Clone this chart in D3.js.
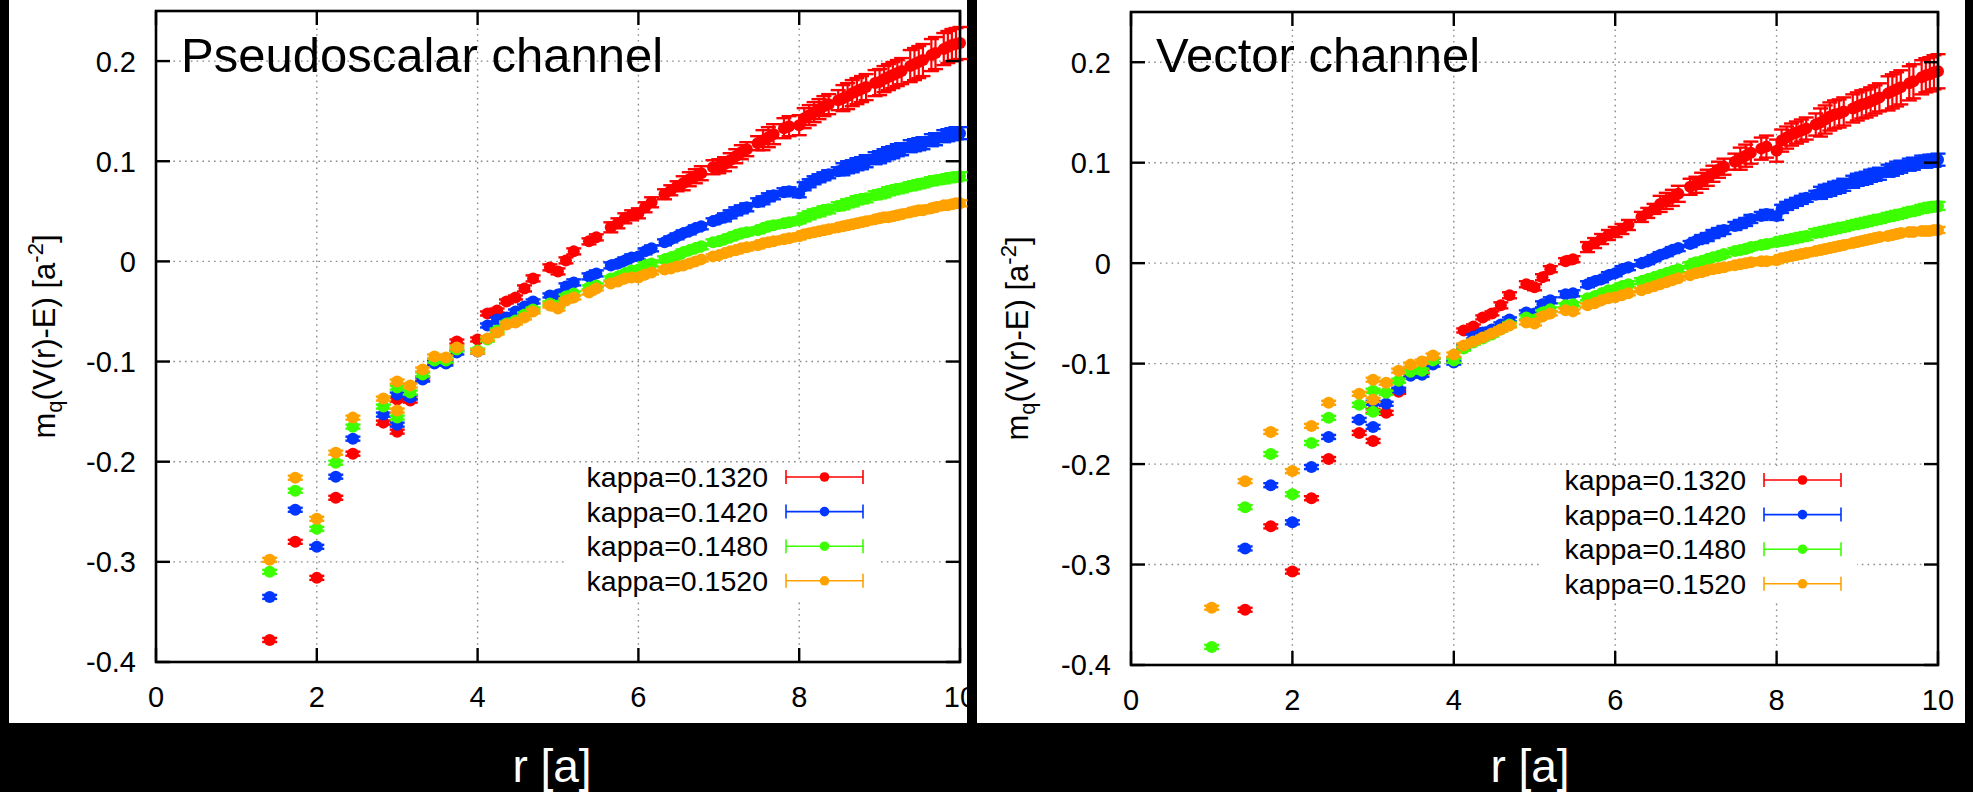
<!DOCTYPE html>
<html>
<head>
<meta charset="utf-8">
<script src="https://cdn.jsdelivr.net/npm/d3@7"></script>
<style>
  html, body { margin: 0; padding: 0; background: #000; }
  svg { display: block; }
</style>
</head>
<body>
<svg id="chart" width="1973" height="792"></svg>
<script>
// Lattice separations r (in units of a); r = 3 appears twice (two inequivalent lattice vectors)
const radii = [
  1.000, 1.414, 1.732, 2.000, 2.236, 2.449, 2.828, 3.000, 3.000, 3.162,
  3.317, 3.464, 3.606, 3.742, 4.000, 4.123, 4.243, 4.359, 4.472, 4.583,
  4.690, 4.899, 5.000, 5.099, 5.196, 5.385, 5.477, 5.657, 5.745, 5.831,
  5.916, 6.000, 6.083, 6.164, 6.325, 6.403, 6.481, 6.557, 6.633, 6.708,
  6.782, 6.928, 7.000, 7.071, 7.141, 7.211, 7.280, 7.348, 7.483, 7.550,
  7.616, 7.681, 7.810, 7.874, 8.000, 8.062, 8.124, 8.185, 8.246, 8.307,
  8.367, 8.485, 8.544, 8.602, 8.660, 8.718, 8.775, 8.832, 8.944, 9.000,
  9.055, 9.110, 9.165, 9.220, 9.274, 9.381, 9.434, 9.487, 9.539, 9.644,
  9.695, 9.798, 9.849, 9.899, 9.950, 10.000
];

const kappaLabels = ["kappa=0.1320", "kappa=0.1420", "kappa=0.1480", "kappa=0.1520"];
const xTicks = [0, 2, 4, 6, 8, 10];
const yTicks = [-0.4, -0.3, -0.2, -0.1, 0, 0.1, 0.2];
const panelTitles = ["Pseudoscalar channel", "Vector channel"];

// Pseudoscalar channel: m_q (V(r) - E)
const ps_k1320 = [
  null, -0.378, -0.280, -0.316, -0.236, -0.192, -0.161, -0.138, -0.170, -0.139,
  -0.117, -0.101, -0.100, -0.080, -0.078, -0.052, -0.049, -0.040, -0.036, -0.027,
  -0.017, -0.006, -0.010, 0.001, 0.010, 0.020, 0.024, 0.034, 0.038, 0.043,
  0.046, 0.048, 0.054, 0.059, 0.067, 0.071, 0.075, 0.078, 0.082, 0.085,
  0.088, 0.094, 0.095, 0.097, 0.101, 0.105, 0.109, 0.112, 0.118, 0.121,
  0.124, 0.127, 0.133, 0.135, 0.136, 0.143, 0.146, 0.149, 0.152, 0.155,
  0.157, 0.161, 0.163, 0.165, 0.168, 0.170, 0.172, 0.174, 0.178, 0.179,
  0.182, 0.184, 0.186, 0.188, 0.190, 0.195, 0.197, 0.199, 0.201, 0.206,
  0.208, 0.212, 0.214, 0.216, 0.217, 0.218
];
const ps_k1420 = [
  null, -0.335, -0.248, -0.285, -0.215, -0.177, -0.153, -0.133, -0.163, -0.136,
  -0.118, -0.102, -0.102, -0.091, -0.090, -0.064, -0.058, -0.056, -0.050, -0.045,
  -0.040, -0.034, -0.033, -0.025, -0.021, -0.015, -0.012, -0.004, -0.002, 0.001,
  0.004, 0.005, 0.010, 0.013, 0.019, 0.022, 0.025, 0.028, 0.030, 0.033,
  0.035, 0.040, 0.042, 0.044, 0.047, 0.050, 0.052, 0.054, 0.059, 0.061,
  0.064, 0.066, 0.069, 0.070, 0.068, 0.075, 0.078, 0.081, 0.083, 0.085,
  0.087, 0.090, 0.092, 0.094, 0.095, 0.097, 0.098, 0.100, 0.103, 0.104,
  0.106, 0.108, 0.109, 0.111, 0.112, 0.115, 0.116, 0.117, 0.118, 0.121,
  0.122, 0.125, 0.126, 0.127, 0.128, 0.128
];
const ps_k1480 = [
  null, -0.310, -0.229, -0.267, -0.201, -0.165, -0.145, -0.126, -0.156, -0.131,
  -0.113, -0.099, -0.099, -0.088, -0.089, -0.078, -0.069, -0.062, -0.059, -0.053,
  -0.048, -0.042, -0.044, -0.035, -0.032, -0.026, -0.024, -0.017, -0.015, -0.012,
  -0.009, -0.008, -0.004, -0.002, 0.002, 0.004, 0.006, 0.009, 0.011, 0.013,
  0.015, 0.019, 0.020, 0.022, 0.024, 0.026, 0.028, 0.029, 0.031, 0.033,
  0.035, 0.036, 0.038, 0.039, 0.041, 0.044, 0.046, 0.048, 0.049, 0.051,
  0.052, 0.055, 0.056, 0.058, 0.059, 0.061, 0.062, 0.063, 0.066, 0.067,
  0.068, 0.070, 0.071, 0.072, 0.073, 0.075, 0.076, 0.077, 0.078, 0.080,
  0.081, 0.082, 0.083, 0.084, 0.084, 0.085
];
const ps_k1520 = [
  null, -0.298, -0.216, -0.257, -0.191, -0.156, -0.137, -0.120, -0.149, -0.124,
  -0.108, -0.095, -0.096, -0.086, -0.090, -0.077, -0.071, -0.063, -0.061, -0.056,
  -0.050, -0.044, -0.047, -0.039, -0.036, -0.031, -0.027, -0.022, -0.020, -0.017,
  -0.016, -0.016, -0.013, -0.011, -0.008, -0.007, -0.005, -0.004, -0.002, 0.000,
  0.002, 0.005, 0.006, 0.008, 0.010, 0.011, 0.013, 0.014, 0.016, 0.018,
  0.019, 0.020, 0.022, 0.023, 0.025, 0.027, 0.028, 0.029, 0.030, 0.031,
  0.032, 0.034, 0.035, 0.036, 0.037, 0.038, 0.039, 0.040, 0.042, 0.043,
  0.044, 0.044, 0.045, 0.046, 0.047, 0.049, 0.050, 0.051, 0.051, 0.053,
  0.054, 0.056, 0.056, 0.057, 0.058, 0.058
];

// Vector channel: m_q (V(r) - E)
const vec_k1320 = [
  null, -0.345, -0.262, -0.307, -0.234, -0.195, -0.169, -0.147, -0.177, -0.149,
  -0.128, -0.111, -0.108, -0.097, -0.096, -0.067, -0.063, -0.054, -0.050, -0.042,
  -0.032, -0.021, -0.024, -0.014, -0.006, 0.002, 0.004, 0.016, 0.020, 0.024,
  0.028, 0.031, 0.034, 0.038, 0.046, 0.050, 0.054, 0.059, 0.062, 0.065,
  0.069, 0.076, 0.078, 0.082, 0.085, 0.089, 0.093, 0.096, 0.101, 0.104,
  0.107, 0.110, 0.114, 0.116, 0.112, 0.122, 0.125, 0.128, 0.130, 0.132,
  0.134, 0.138, 0.140, 0.143, 0.146, 0.148, 0.149, 0.151, 0.154, 0.156,
  0.158, 0.159, 0.161, 0.163, 0.165, 0.169, 0.171, 0.173, 0.175, 0.179,
  0.181, 0.185, 0.187, 0.188, 0.190, 0.191
];
const vec_k1420 = [
  null, -0.284, -0.221, -0.258, -0.203, -0.173, -0.156, -0.139, -0.163, -0.140,
  -0.126, -0.112, -0.111, -0.101, -0.099, -0.083, -0.073, -0.069, -0.066, -0.061,
  -0.056, -0.049, -0.050, -0.041, -0.037, -0.031, -0.030, -0.021, -0.018, -0.016,
  -0.012, -0.010, -0.006, -0.004, 0.000, 0.002, 0.005, 0.008, 0.010, 0.013,
  0.015, 0.019, 0.022, 0.024, 0.026, 0.029, 0.031, 0.033, 0.037, 0.039,
  0.041, 0.044, 0.047, 0.049, 0.047, 0.054, 0.057, 0.059, 0.061, 0.063,
  0.065, 0.068, 0.070, 0.072, 0.073, 0.075, 0.076, 0.078, 0.081, 0.083,
  0.084, 0.085, 0.087, 0.088, 0.089, 0.092, 0.093, 0.095, 0.096, 0.098,
  0.099, 0.101, 0.101, 0.102, 0.102, 0.103
];
const vec_k1480 = [
  -0.382, -0.243, -0.190, -0.230, -0.179, -0.154, -0.141, -0.127, -0.148, -0.129,
  -0.117, -0.108, -0.107, -0.097, -0.097, -0.085, -0.079, -0.075, -0.071, -0.066,
  -0.061, -0.054, -0.056, -0.049, -0.046, -0.042, -0.041, -0.035, -0.033, -0.030,
  -0.027, -0.026, -0.023, -0.021, -0.018, -0.016, -0.014, -0.012, -0.010, -0.008,
  -0.006, -0.002, 0.001, 0.002, 0.004, 0.006, 0.007, 0.009, 0.012, 0.013,
  0.014, 0.016, 0.018, 0.019, 0.021, 0.022, 0.023, 0.024, 0.025, 0.026,
  0.027, 0.030, 0.031, 0.032, 0.033, 0.034, 0.035, 0.036, 0.038, 0.039,
  0.040, 0.041, 0.042, 0.043, 0.044, 0.046, 0.047, 0.048, 0.049, 0.051,
  0.052, 0.054, 0.055, 0.056, 0.056, 0.057
];
const vec_k1520 = [
  -0.343, -0.217, -0.168, -0.207, -0.162, -0.139, -0.130, -0.116, -0.136, -0.119,
  -0.107, -0.101, -0.098, -0.092, -0.091, -0.082, -0.078, -0.074, -0.070, -0.066,
  -0.062, -0.059, -0.060, -0.053, -0.050, -0.047, -0.048, -0.042, -0.040, -0.037,
  -0.035, -0.034, -0.032, -0.030, -0.027, -0.025, -0.023, -0.021, -0.019, -0.017,
  -0.015, -0.012, -0.010, -0.009, -0.007, -0.006, -0.005, -0.004, -0.002, -0.001,
  0.000, 0.001, 0.002, 0.002, 0.003, 0.005, 0.006, 0.007, 0.008, 0.009,
  0.010, 0.012, 0.013, 0.014, 0.015, 0.016, 0.017, 0.018, 0.020, 0.021,
  0.022, 0.023, 0.024, 0.025, 0.026, 0.027, 0.028, 0.029, 0.030, 0.031,
  0.031, 0.032, 0.032, 0.032, 0.033, 0.033
];

// Statistical errors, given per range of r as [upper r, half-width]
const psErr_k1320 = [[4.5, 0.002], [5.5, 0.003], [6.5, 0.005], [7.5, 0.007], [8.5, 0.010], [9.3, 0.013], [10.1, 0.016]];
const psErr_k1420 = [[5.0, 0.002], [7.0, 0.003], [8.5, 0.004], [10.1, 0.006]];
const psErr_k1480 = [[6.0, 0.002], [8.0, 0.003], [10.1, 0.004]];
const psErr_k1520 = [[7.0, 0.002], [10.1, 0.003]];
const vecErr_k1320 = [[4.5, 0.002], [5.5, 0.003], [6.5, 0.005], [7.5, 0.008], [8.5, 0.011], [9.3, 0.014], [10.1, 0.017]];
const vecErr_k1420 = [[5.0, 0.002], [7.0, 0.003], [8.5, 0.004], [10.1, 0.006]];
const vecErr_k1480 = [[6.0, 0.002], [8.0, 0.003], [10.1, 0.004]];
const vecErr_k1520 = [[7.0, 0.002], [10.1, 0.003]];

const seriesColors = ["#ff0000", "#0036ff", "#3cff00", "#ffa200"];

const svg = d3.select("#chart");
const FONT = "'Liberation Sans', Arial, Helvetica, sans-serif";

const panels = [
  {
    title: panelTitles[0],
    series: [ps_k1320, ps_k1420, ps_k1480, ps_k1520],
    errs: [psErr_k1320, psErr_k1420, psErr_k1480, psErr_k1520],
    bg: [9, 967], plot: { left: 156, right: 960, top: 11, bottom: 662 },
    yLabelX: 55, rLabelX: 552,
    legendBox: [565, 878]
  },
  {
    title: panelTitles[1],
    series: [vec_k1320, vec_k1420, vec_k1480, vec_k1520],
    errs: [vecErr_k1320, vecErr_k1420, vecErr_k1480, vecErr_k1520],
    bg: [977, 1965], plot: { left: 1131, right: 1938, top: 12, bottom: 665 },
    yLabelX: 1028, rLabelX: 1530,
    legendBox: [1540, 1857]
  }
];

function errAt(bands, r) {
  for (const [rMax, e] of bands) if (r <= rMax) return e;
  return bands[bands.length - 1][1];
}

panels.forEach(p => {
  const P = p.plot;
  const x = d3.scaleLinear().domain([0, 10]).range([P.left, P.right]);
  const y = d3.scaleLinear().domain([-0.4, 0.25]).range([P.bottom, P.top]);
  const g = svg.append("g");

  // white page of the panel
  g.append("rect").attr("x", p.bg[0]).attr("y", 0)
    .attr("width", p.bg[1] - p.bg[0]).attr("height", 723).attr("fill", "#fff");

  // dotted grid
  const grid = g.append("g").attr("stroke", "#8a8a8a").attr("stroke-width", 1.4)
    .attr("stroke-dasharray", "1.6,4.2");
  grid.selectAll("line.gx").data(xTicks.filter(t => t > 0 && t < 10)).enter().append("line")
    .attr("x1", d => x(d)).attr("x2", d => x(d)).attr("y1", P.top).attr("y2", P.bottom);
  grid.selectAll("line.gy").data(yTicks.filter(t => t > -0.4)).enter().append("line")
    .attr("x1", P.left).attr("x2", P.right).attr("y1", d => y(d)).attr("y2", d => y(d));

  // legend, on an opaque box over the grid
  const legTop = P.bottom - 199;
  g.append("rect").attr("x", p.legendBox[0]).attr("y", legTop)
    .attr("width", p.legendBox[1] - p.legendBox[0]).attr("height", 136).attr("fill", "#fff");
  const textRight = P.right - 192;
  const sx1 = P.right - 174, sx2 = P.right - 97;
  kappaLabels.forEach((lab, i) => {
    const cy = P.bottom - 185 + i * 34.6;
    g.append("text").attr("x", textRight).attr("y", cy).attr("dy", "0.36em")
      .attr("text-anchor", "end").attr("font-family", FONT).attr("font-size", 28.5)
      .attr("fill", "#000").text(lab);
    const s = g.append("g").attr("stroke", seriesColors[i]).attr("stroke-width", 1.6);
    s.append("line").attr("x1", sx1).attr("x2", sx2).attr("y1", cy).attr("y2", cy);
    s.append("line").attr("x1", sx1).attr("x2", sx1).attr("y1", cy - 7).attr("y2", cy + 7);
    s.append("line").attr("x1", sx2).attr("x2", sx2).attr("y1", cy - 7).attr("y2", cy + 7);
    g.append("circle").attr("cx", (sx1 + sx2) / 2).attr("cy", cy).attr("r", 4.8)
      .attr("fill", seriesColors[i]);
  });

  // data points with error bars
  p.series.forEach((vals, si) => {
    const pts = radii.map((r, i) => ({ r, v: vals[i], e: errAt(p.errs[si], r) }))
      .filter(d => d.v !== null);
    const sg = g.append("g").attr("fill", seriesColors[si]).attr("stroke", seriesColors[si]);
    const pt = sg.selectAll("g").data(pts).enter().append("g");
    pt.append("line").attr("stroke-width", 2.2)
      .attr("x1", d => x(d.r)).attr("x2", d => x(d.r))
      .attr("y1", d => y(d.v - d.e)).attr("y2", d => y(d.v + d.e));
    pt.append("line").attr("stroke-width", 2.4)
      .attr("x1", d => x(d.r) - 7.5).attr("x2", d => x(d.r) + 7.5)
      .attr("y1", d => y(d.v - d.e)).attr("y2", d => y(d.v - d.e));
    pt.append("line").attr("stroke-width", 2.4)
      .attr("x1", d => x(d.r) - 7.5).attr("x2", d => x(d.r) + 7.5)
      .attr("y1", d => y(d.v + d.e)).attr("y2", d => y(d.v + d.e));
    pt.append("circle").attr("stroke", "none")
      .attr("cx", d => x(d.r)).attr("cy", d => y(d.v)).attr("r", 6);
  });

  // frame and inward ticks on all four sides
  g.append("rect").attr("x", P.left).attr("y", P.top)
    .attr("width", P.right - P.left).attr("height", P.bottom - P.top)
    .attr("fill", "none").attr("stroke", "#000").attr("stroke-width", 2.6);
  const tk = g.append("g").attr("stroke", "#000").attr("stroke-width", 2.4);
  const tickLen = 14;
  xTicks.forEach(t => {
    tk.append("line").attr("x1", x(t)).attr("x2", x(t)).attr("y1", P.bottom).attr("y2", P.bottom - tickLen);
    tk.append("line").attr("x1", x(t)).attr("x2", x(t)).attr("y1", P.top).attr("y2", P.top + tickLen);
  });
  yTicks.forEach(t => {
    tk.append("line").attr("x1", P.left).attr("x2", P.left + tickLen).attr("y1", y(t)).attr("y2", y(t));
    tk.append("line").attr("x1", P.right).attr("x2", P.right - tickLen).attr("y1", y(t)).attr("y2", y(t));
  });

  // tick labels
  const fmt = d => (d === 0 ? "0" : d3.format(".1f")(d).replace("\u2212", "-"));
  g.selectAll("text.xt").data(xTicks).enter().append("text")
    .attr("x", d => x(d)).attr("y", P.bottom + 45)
    .attr("text-anchor", "middle").attr("font-family", FONT).attr("font-size", 29)
    .attr("fill", "#000").text(d => d);
  g.selectAll("text.yt").data(yTicks).enter().append("text")
    .attr("x", P.left - 20).attr("y", d => y(d)).attr("dy", "0.36em")
    .attr("text-anchor", "end").attr("font-family", FONT).attr("font-size", 29)
    .attr("fill", "#000").text(fmt);

  // y axis title, rotated
  const yl = g.append("text")
    .attr("transform", `translate(${p.yLabelX},${(P.top + P.bottom) / 2}) rotate(-90)`)
    .attr("text-anchor", "middle").attr("font-family", FONT).attr("font-size", 31)
    .attr("fill", "#000");
  yl.append("tspan").text("m");
  yl.append("tspan").attr("font-size", 22).attr("dy", 7).text("q");
  yl.append("tspan").attr("dy", -7).text("(V(r)-E) [a");
  yl.append("tspan").attr("font-size", 22).attr("dy", -12).text("-2");
  yl.append("tspan").attr("dy", 12).text("]");

  // panel title
  g.append("text").attr("x", P.left + 25).attr("y", 72)
    .attr("font-family", FONT).attr("font-size", 49).attr("fill", "#000").text(p.title);

  // x axis title on the dark band
  svg.append("text").attr("x", p.rLabelX).attr("y", 782)
    .attr("text-anchor", "middle").attr("font-family", FONT).attr("font-size", 46)
    .attr("fill", "#fff").text("r [a]");
});
</script>
</body>
</html>
